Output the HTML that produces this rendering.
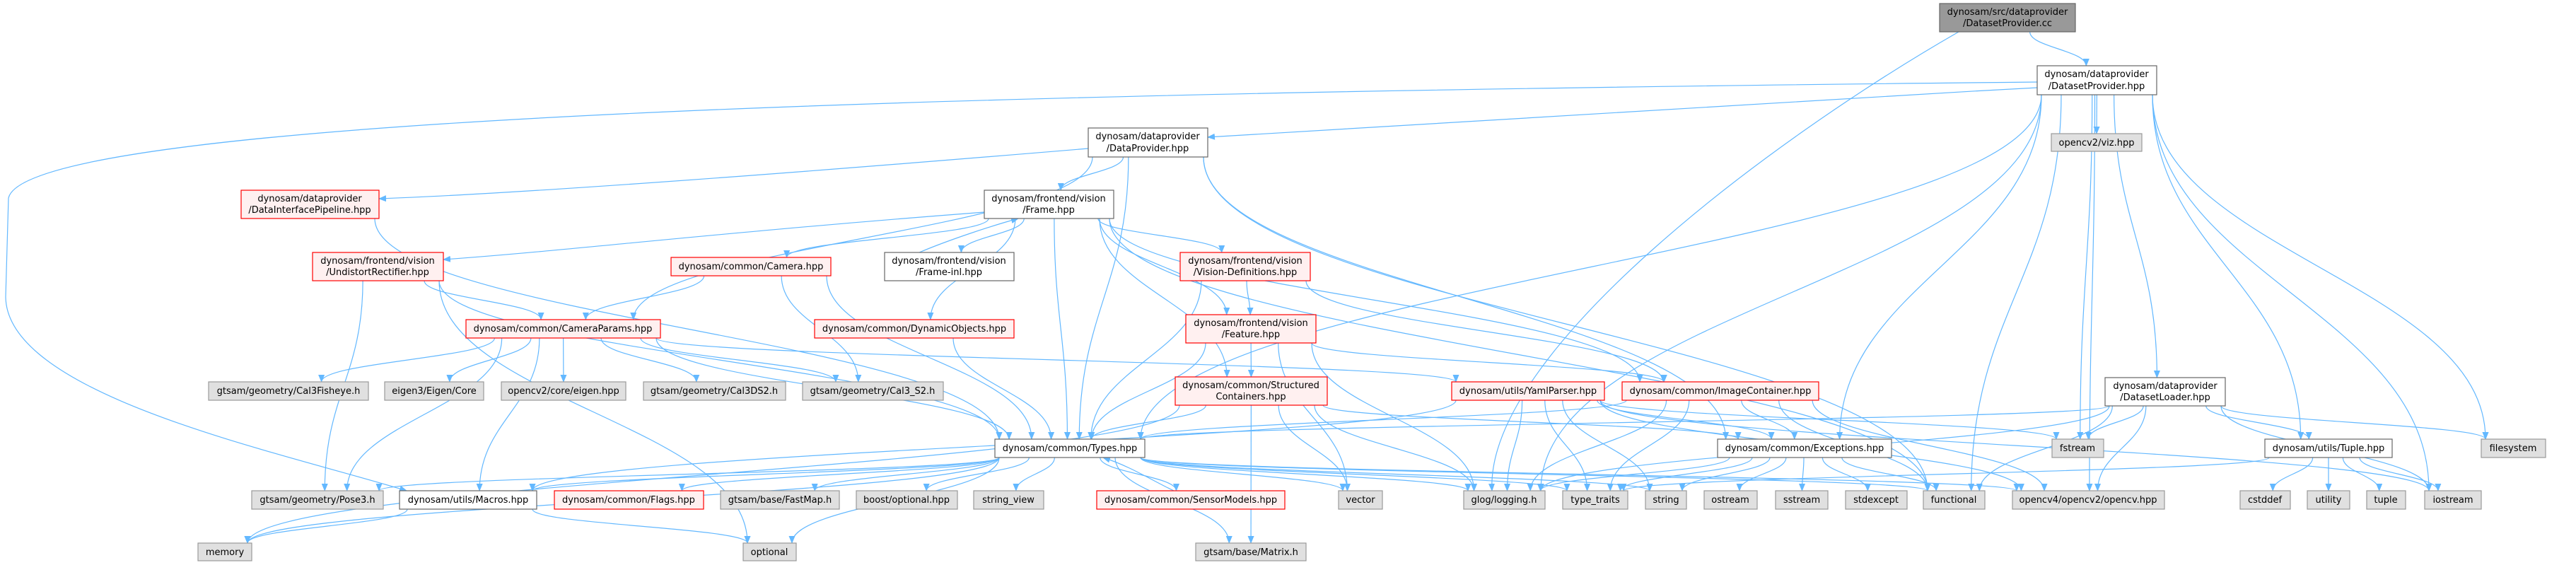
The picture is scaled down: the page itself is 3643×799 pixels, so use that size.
<!DOCTYPE html>
<html><head><meta charset="utf-8">
<style>
html,body{margin:0;padding:0;background:#fff;}
svg{display:block;}
text{font-family:"DejaVu Sans","Liberation Sans",sans-serif;font-size:13px;fill:#000;text-anchor:middle;}
.w{fill:#fff;stroke:#666;stroke-width:1.2}
.r{fill:#fff0f0;stroke:#f00;stroke-width:1.2}
.g{fill:#e0e0e0;stroke:#999;stroke-width:1.2}
.k{fill:#999;stroke:#666;stroke-width:1.2}
.e{fill:none;stroke:#63b8ff;stroke-width:1.2}
</style></head>
<body>
<svg id="s" width="3643" height="799" viewBox="0 0 3643 799" xmlns="http://www.w3.org/2000/svg">
<defs><marker id="a" markerWidth="11" markerHeight="9" refX="10" refY="4.5" orient="auto" markerUnits="userSpaceOnUse"><path d="M0,0 L11,4.5 L0,9 z" fill="#63b8ff"/></marker></defs>
<g id="edges"></g>
<g id="nodes">
<rect class="k" x="2743" y="5" width="192" height="40"/><text x="2839" y="21">dynosam/src/dataprovider</text><text x="2839" y="37">/DatasetProvider.cc</text>
<rect class="w" x="2881" y="93" width="169" height="41"/><text x="2965" y="109">dynosam/dataprovider</text><text x="2965" y="126">/DatasetProvider.hpp</text>
<rect class="w" x="1539" y="181" width="169" height="41"/><text x="1623" y="197">dynosam/dataprovider</text><text x="1623" y="214">/DataProvider.hpp</text>
<rect class="r" x="341" y="269" width="195" height="40"/><text x="438" y="285">dynosam/dataprovider</text><text x="438" y="301">/DataInterfacePipeline.hpp</text>
<rect class="w" x="1392" y="269" width="183" height="40"/><text x="1483" y="285">dynosam/frontend/vision</text><text x="1483" y="301">/Frame.hpp</text>
<rect class="r" x="442" y="357" width="185" height="40"/><text x="534" y="373">dynosam/frontend/vision</text><text x="534" y="389">/UndistortRectifier.hpp</text>
<rect class="r" x="949" y="364" width="226" height="26"/><text x="1062" y="381">dynosam/common/Camera.hpp</text>
<rect class="w" x="1251" y="357" width="183" height="40"/><text x="1342" y="373">dynosam/frontend/vision</text><text x="1342" y="389">/Frame-inl.hpp</text>
<rect class="r" x="1669" y="357" width="184" height="40"/><text x="1761" y="373">dynosam/frontend/vision</text><text x="1761" y="389">/Vision-Definitions.hpp</text>
<rect class="g" x="2901" y="189" width="128" height="25"/><text x="2965" y="206">opencv2/viz.hpp</text>
<rect class="r" x="1152" y="452" width="282" height="26"/><text x="1293" y="469">dynosam/common/DynamicObjects.hpp</text>
<rect class="r" x="659" y="452" width="275" height="26"/><text x="796" y="469">dynosam/common/CameraParams.hpp</text>
<rect class="r" x="1677" y="445" width="184" height="40"/><text x="1769" y="461">dynosam/frontend/vision</text><text x="1769" y="477">/Feature.hpp</text>
<rect class="r" x="1662" y="533" width="215" height="40"/><text x="1769" y="549">dynosam/common/Structured</text><text x="1769" y="565">Containers.hpp</text>
<rect class="w" x="2977" y="534" width="170" height="40"/><text x="3062" y="550">dynosam/dataprovider</text><text x="3062" y="566">/DatasetLoader.hpp</text>
<rect class="g" x="295" y="540" width="226" height="26"/><text x="408" y="557">gtsam/geometry/Cal3Fisheye.h</text>
<rect class="g" x="544" y="540" width="140" height="26"/><text x="614" y="557">eigen3/Eigen/Core</text>
<rect class="g" x="709" y="540" width="176" height="26"/><text x="797" y="557">opencv2/core/eigen.hpp</text>
<rect class="g" x="910" y="540" width="201" height="26"/><text x="1010" y="557">gtsam/geometry/Cal3DS2.h</text>
<rect class="g" x="1135" y="540" width="199" height="26"/><text x="1234" y="557">gtsam/geometry/Cal3_S2.h</text>
<rect class="r" x="2053" y="540" width="216" height="26"/><text x="2161" y="557">dynosam/utils/YamlParser.hpp</text>
<rect class="r" x="2294" y="540" width="278" height="26"/><text x="2433" y="557">dynosam/common/ImageContainer.hpp</text>
<rect class="w" x="1407" y="621" width="212" height="26"/><text x="1513" y="638">dynosam/common/Types.hpp</text>
<rect class="w" x="2429" y="621" width="246" height="26"/><text x="2552" y="638">dynosam/common/Exceptions.hpp</text>
<rect class="g" x="2902" y="621" width="73" height="26"/><text x="2938" y="638">fstream</text>
<rect class="w" x="3203" y="621" width="180" height="26"/><text x="3293" y="638">dynosam/utils/Tuple.hpp</text>
<rect class="g" x="3509" y="621" width="91" height="26"/><text x="3554" y="638">filesystem</text>
<rect class="g" x="356" y="694" width="186" height="26"/><text x="449" y="711">gtsam/geometry/Pose3.h</text>
<rect class="w" x="565" y="694" width="194" height="26"/><text x="662" y="711">dynosam/utils/Macros.hpp</text>
<rect class="r" x="784" y="694" width="211" height="26"/><text x="889" y="711">dynosam/common/Flags.hpp</text>
<rect class="g" x="1019" y="694" width="168" height="26"/><text x="1103" y="711">gtsam/base/FastMap.h</text>
<rect class="g" x="1211" y="694" width="143" height="26"/><text x="1282" y="711">boost/optional.hpp</text>
<rect class="g" x="1377" y="694" width="99" height="26"/><text x="1426" y="711">string_view</text>
<rect class="r" x="1551" y="694" width="266" height="26"/><text x="1684" y="711">dynosam/common/SensorModels.hpp</text>
<rect class="g" x="1893" y="694" width="62" height="26"/><text x="1924" y="711">vector</text>
<rect class="g" x="2070" y="694" width="115" height="26"/><text x="2127" y="711">glog/logging.h</text>
<rect class="g" x="2210" y="694" width="92" height="26"/><text x="2256" y="711">type_traits</text>
<rect class="g" x="2327" y="694" width="58" height="26"/><text x="2356" y="711">string</text>
<rect class="g" x="2410" y="694" width="75" height="26"/><text x="2447" y="711">ostream</text>
<rect class="g" x="2511" y="694" width="74" height="26"/><text x="2548" y="711">sstream</text>
<rect class="g" x="2610" y="694" width="87" height="26"/><text x="2653" y="711">stdexcept</text>
<rect class="g" x="2720" y="694" width="87" height="26"/><text x="2763" y="711">functional</text>
<rect class="g" x="2846" y="694" width="215" height="26"/><text x="2953" y="711">opencv4/opencv2/opencv.hpp</text>
<rect class="g" x="3168" y="694" width="71" height="26"/><text x="3203" y="711">cstddef</text>
<rect class="g" x="3263" y="694" width="60" height="26"/><text x="3293" y="711">utility</text>
<rect class="g" x="3347" y="694" width="55" height="26"/><text x="3374" y="711">tuple</text>
<rect class="g" x="3429" y="694" width="80" height="26"/><text x="3469" y="711">iostream</text>
<rect class="g" x="280" y="768" width="76" height="25"/><text x="318" y="785">memory</text>
<rect class="g" x="1051" y="768" width="75" height="25"/><text x="1088" y="785">optional</text>
<rect class="g" x="1691" y="768" width="156" height="25"/><text x="1769" y="785">gtsam/base/Matrix.h</text>
</g>
</svg>
<script>
var N={cc:[2743,5,192,40],DSP:[2881,93,169,41],DP:[1539,181,169,41],DIP:[341,269,195,40],Frame:[1392,269,183,40],
Und:[442,357,185,40],Cam:[949,364,226,26],FInl:[1251,357,183,40],Vis:[1669,357,184,40],viz:[2901,189,128,25],
Dyn:[1152,452,282,26],CP:[659,452,275,26],Feat:[1677,445,184,40],SC:[1662,533,215,40],DSL:[2977,534,170,40],
Fish:[295,540,226,26],Eig:[544,540,140,26],cve:[709,540,176,26],DS2:[910,540,201,26],S2:[1135,540,199,26],
Yaml:[2053,540,216,26],Img:[2294,540,278,26],Types:[1407,621,212,26],Exc:[2429,621,246,26],fst:[2902,621,73,26],
Tup:[3203,621,180,26],fs:[3509,621,91,26],Pose:[356,694,186,26],Mac:[565,694,194,26],Flags:[784,694,211,26],
Fast:[1019,694,168,26],bopt:[1211,694,143,26],sv:[1377,694,99,26],Sens:[1551,694,266,26],vec:[1893,694,62,26],
glog:[2070,694,115,26],tt:[2210,694,92,26],str:[2327,694,58,26],ost:[2410,694,75,26],sst:[2511,694,74,26],
stdx:[2610,694,87,26],fun:[2720,694,87,26],cv4:[2846,694,215,26],cst:[3168,694,71,26],util:[3263,694,60,26],
tup:[3347,694,55,26],ios:[3429,694,80,26],mem:[280,768,76,25],opt:[1051,768,75,25],Mat:[1691,768,156,25]};
var E="cc>DSP DSP>viz DSP>DSL DSP>Tup DSP>fs DSP>ios DSP>fst DSP>cv4 DSP>fun DSP>Exc DSP>glog DSP>Types "+
"DP>Frame DP>Types DP>CP DP>fun DP>Exc Frame>Cam Frame>FInl Frame>Dyn Frame>Vis Frame>Feat Frame>SC Frame>Img Frame>Types Frame>fun "+
"Und>CP Und>Types Und>Pose Und>opt Cam>CP Cam>S2 Cam>Types DIP>Types CP>Fish CP>Eig CP>cve CP>DS2 CP>S2 CP>Yaml CP>Types CP>Mac CP>Pose "+
"Dyn>Types Vis>Feat Vis>Types Vis>Img Feat>SC Feat>Types Feat>vec Feat>Img Feat>glog SC>Types SC>vec SC>glog SC>Mat SC>mem SC>Exc "+
"Yaml>glog Yaml>str Yaml>tt Yaml>Mac Yaml>Exc Yaml>fst Yaml>ios Yaml>cv4 Img>Exc Img>glog Img>tt Img>cv4 Img>Types Img>fun "+
"Types>Pose Types>Mac Types>Flags Types>Fast Types>bopt Types>sv Types>Sens Types>vec Types>glog Types>tt Types>str Types>fun Types>cv4 Types>Mat Types>opt Types>mem "+
"Mac>mem Mac>opt Exc>str Exc>ost Exc>sst Exc>stdx Exc>fun Exc>glog Exc>tt DSL>fst DSL>Tup DSL>fs DSL>ios DSL>cv4 DSL>fun DSL>glog DSL>Types "+
"Tup>cst Tup>util Tup>tup Tup>ios Tup>tt";
var g=document.getElementById('edges'),h='';
function cl(v,a,b){return Math.max(a,Math.min(b,v));}
function P(d){h+='<path class="e" marker-end="url(#a)" d="'+d+'"/>';}
E.split(' ').forEach(function(p){var q=p.split('>'),s=N[q[0]],t=N[q[1]];
 var scx=s[0]+s[2]/2,tcx=t[0]+t[2]/2;
 var sx=cl(scx+(tcx-scx)*0.25,s[0]+6,s[0]+s[2]-6), tx=cl(tcx+(scx-tcx)*0.12,t[0]+6,t[0]+t[2]-6);
 var sy=s[1]+s[3], ty=t[1]; var dy=ty-sy;
 P('M'+sx+','+sy+' C'+sx+','+(sy+dy*0.45)+' '+tx+','+(ty-dy*0.45)+' '+tx+','+ty);});
P('M1300,357 C1340,340 1400,320 1440,309');
P('M1660,694 C1630,680 1600,660 1560,647');
P('M2881,116 C1500,130 40,160 12,280 L8,420 C10,560 400,640 575,694');
P('M2881,124 C2400,150 1900,180 1708,194');
P('M2770,45 C2500,200 2100,500 2110,694');
P('M1539,210 C1000,255 700,275 536,281');
P('M1392,300 C1000,330 800,355 627,367');
g.innerHTML=h;
</script>
</body></html>
